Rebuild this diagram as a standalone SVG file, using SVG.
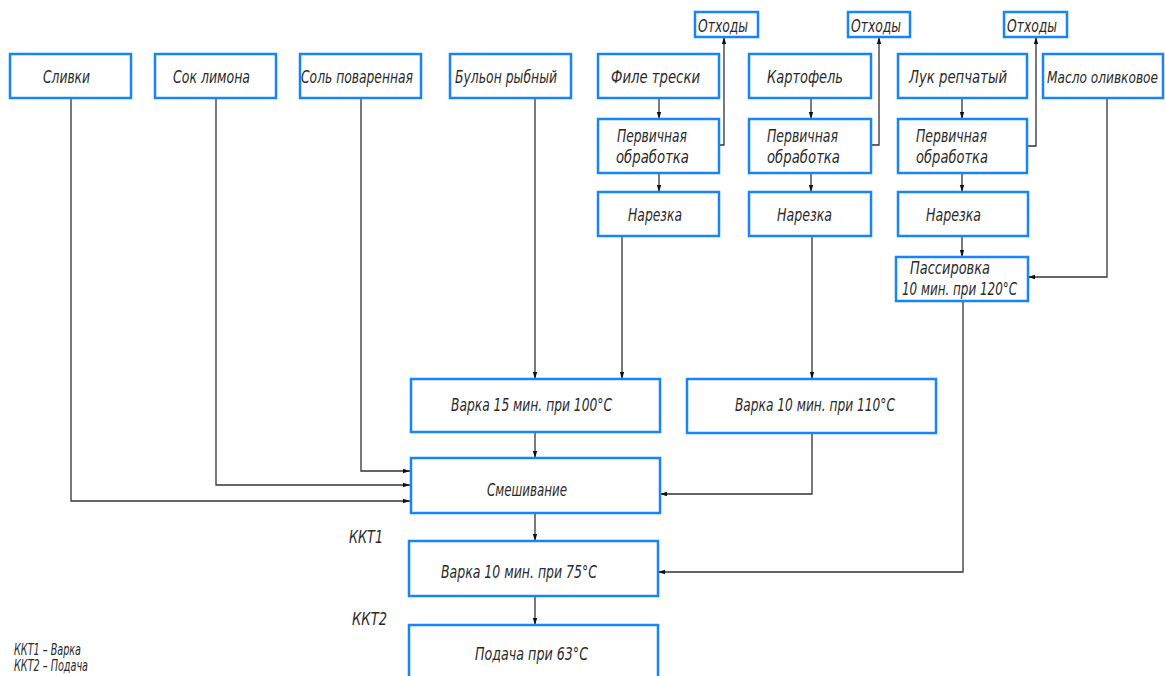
<svg xmlns="http://www.w3.org/2000/svg" width="1165" height="676" viewBox="0 0 1165 676">
<style>
.box{fill:#fff;stroke:#1585f7;stroke-width:2.5}
.t{font-family:"Liberation Sans Narrow","DejaVu Sans Condensed","Liberation Sans",sans-serif;font-style:italic;font-size:18px;fill:#2a2a2a}
.s{font-size:15px}
.m{font-size:16px}
.c{fill:none;stroke:#333;stroke-width:1.3}
</style>
<defs>
<marker id="a" markerUnits="userSpaceOnUse" markerWidth="8" markerHeight="6" refX="7" refY="3" orient="auto">
<path d="M0,0.8 L7,3 L0,5.2 Z" fill="#111"/>
</marker>
</defs>
<rect width="1165" height="676" fill="#fff"/>
<g id="connectors">
<path class="c" marker-end="url(#a)" d="M71,98 V501 H410"/>
<path class="c" marker-end="url(#a)" d="M216,98 V485 H410"/>
<path class="c" marker-end="url(#a)" d="M361,98 V471 H410"/>
<path class="c" marker-end="url(#a)" d="M535,98 V379"/>
<path class="c" marker-end="url(#a)" d="M659,98 V119"/>
<path class="c" marker-end="url(#a)" d="M659,173 V192"/>
<path class="c" marker-end="url(#a)" d="M719,145 H724 V37"/>
<path class="c" marker-end="url(#a)" d="M622,236 V379"/>
<path class="c" marker-end="url(#a)" d="M811,98 V119"/>
<path class="c" marker-end="url(#a)" d="M811,173 V192"/>
<path class="c" marker-end="url(#a)" d="M871,145 H879 V37"/>
<path class="c" marker-end="url(#a)" d="M812,236 V379"/>
<path class="c" marker-end="url(#a)" d="M962,98 V119"/>
<path class="c" marker-end="url(#a)" d="M962,173 V192"/>
<path class="c" marker-end="url(#a)" d="M1027,146 H1036 V37"/>
<path class="c" marker-end="url(#a)" d="M962,236 V257"/>
<path class="c" marker-end="url(#a)" d="M1107,98 V277 H1028"/>
<path class="c" marker-end="url(#a)" d="M963,301 V572 H658"/>
<path class="c" marker-end="url(#a)" d="M535,432 V458"/>
<path class="c" marker-end="url(#a)" d="M812,433 V494 H660"/>
<path class="c" marker-end="url(#a)" d="M535,513 V541"/>
<path class="c" marker-end="url(#a)" d="M535,596 V625"/>
</g>
<g id="n-slivki"><rect class="box" x="10" y="54" width="121" height="44"/><text class="t" x="43" y="83" textLength="47" lengthAdjust="spacingAndGlyphs">Сливки</text></g>
<g id="n-sok"><rect class="box" x="155" y="54" width="121" height="44"/><text class="t" x="173" y="83" textLength="77" lengthAdjust="spacingAndGlyphs">Сок лимона</text></g>
<g id="n-sol"><rect class="box" x="300" y="54" width="121" height="44"/><text class="t" x="301" y="83" textLength="112" lengthAdjust="spacingAndGlyphs">Соль поваренная</text></g>
<g id="n-bulon"><rect class="box" x="450" y="54" width="121" height="44"/><text class="t" x="455" y="83" textLength="102" lengthAdjust="spacingAndGlyphs">Бульон рыбный</text></g>
<g id="n-file"><rect class="box" x="598" y="54" width="121" height="44"/><text class="t" x="611" y="83" textLength="89" lengthAdjust="spacingAndGlyphs">Филе трески</text></g>
<g id="n-kartofel"><rect class="box" x="749" y="54" width="122" height="44"/><text class="t" x="767" y="83" textLength="76" lengthAdjust="spacingAndGlyphs">Картофель</text></g>
<g id="n-luk"><rect class="box" x="898" y="54" width="129" height="44"/><text class="t" x="909" y="83" textLength="98" lengthAdjust="spacingAndGlyphs">Лук репчатый</text></g>
<g id="n-maslo"><rect class="box" x="1043" y="54" width="120" height="44"/><text class="t m" x="1047" y="83" textLength="111" lengthAdjust="spacingAndGlyphs">Масло оливковое</text></g>
<g id="n-othody1"><rect class="box" x="695" y="12" width="63" height="25"/><text class="t" x="698" y="32" textLength="50" lengthAdjust="spacingAndGlyphs">Отходы</text></g>
<g id="n-othody2"><rect class="box" x="848" y="12" width="62" height="25"/><text class="t" x="851" y="32" textLength="50" lengthAdjust="spacingAndGlyphs">Отходы</text></g>
<g id="n-othody3"><rect class="box" x="1004" y="12" width="63" height="25"/><text class="t" x="1007" y="32" textLength="50" lengthAdjust="spacingAndGlyphs">Отходы</text></g>
<g id="n-perv1"><rect class="box" x="598" y="119" width="121" height="54"/><text class="t" x="617" y="142" textLength="70" lengthAdjust="spacingAndGlyphs">Первичная</text><text class="t" x="616" y="163" textLength="73" lengthAdjust="spacingAndGlyphs">обработка</text></g>
<g id="n-perv2"><rect class="box" x="749" y="119" width="122" height="54"/><text class="t" x="767" y="142" textLength="71" lengthAdjust="spacingAndGlyphs">Первичная</text><text class="t" x="767" y="163" textLength="73" lengthAdjust="spacingAndGlyphs">обработка</text></g>
<g id="n-perv3"><rect class="box" x="898" y="119" width="129" height="54"/><text class="t" x="916" y="142" textLength="71" lengthAdjust="spacingAndGlyphs">Первичная</text><text class="t" x="916" y="163" textLength="72" lengthAdjust="spacingAndGlyphs">обработка</text></g>
<g id="n-narez1"><rect class="box" x="598" y="192" width="121" height="44"/><text class="t" x="628" y="221" textLength="54" lengthAdjust="spacingAndGlyphs">Нарезка</text></g>
<g id="n-narez2"><rect class="box" x="749" y="192" width="122" height="44"/><text class="t" x="777" y="221" textLength="55" lengthAdjust="spacingAndGlyphs">Нарезка</text></g>
<g id="n-narez3"><rect class="box" x="898" y="192" width="130" height="44"/><text class="t" x="926" y="221" textLength="55" lengthAdjust="spacingAndGlyphs">Нарезка</text></g>
<g id="n-passir"><rect class="box" x="896" y="257" width="132" height="44"/><text class="t" x="910" y="274" textLength="80" lengthAdjust="spacingAndGlyphs">Пассировка</text><text class="t" x="902" y="295" textLength="115" lengthAdjust="spacingAndGlyphs">10 мин. при 120°С</text></g>
<g id="n-varka15"><rect class="box" x="411" y="379" width="249" height="53"/><text class="t" x="451" y="411" textLength="161" lengthAdjust="spacingAndGlyphs">Варка 15 мин. при 100°С</text></g>
<g id="n-varka110"><rect class="box" x="687" y="379" width="249" height="54"/><text class="t" x="735" y="411" textLength="160" lengthAdjust="spacingAndGlyphs">Варка 10 мин. при 110°С</text></g>
<g id="n-smesh"><rect class="box" x="411" y="458" width="249" height="55"/><text class="t" x="487" y="496" textLength="80" lengthAdjust="spacingAndGlyphs">Смешивание</text></g>
<g id="n-varka75"><rect class="box" x="409" y="541" width="249" height="55"/><text class="t" x="441" y="578" textLength="156" lengthAdjust="spacingAndGlyphs">Варка 10 мин. при 75°С</text></g>
<g id="n-podacha"><rect class="box" x="409" y="625" width="249" height="60"/><text class="t" x="475" y="660" textLength="113" lengthAdjust="spacingAndGlyphs">Подача при 63°С</text></g>
<g id="labels">
<text class="t" x="349" y="543" textLength="34" lengthAdjust="spacingAndGlyphs">ККТ1</text>
<text class="t" x="352" y="625" textLength="35" lengthAdjust="spacingAndGlyphs">ККТ2</text>
<text class="t s" x="14" y="655" textLength="67" lengthAdjust="spacingAndGlyphs">ККТ1 – Варка</text>
<text class="t s" x="14" y="671" textLength="74" lengthAdjust="spacingAndGlyphs">ККТ2 – Подача</text>
</g>
</svg>
